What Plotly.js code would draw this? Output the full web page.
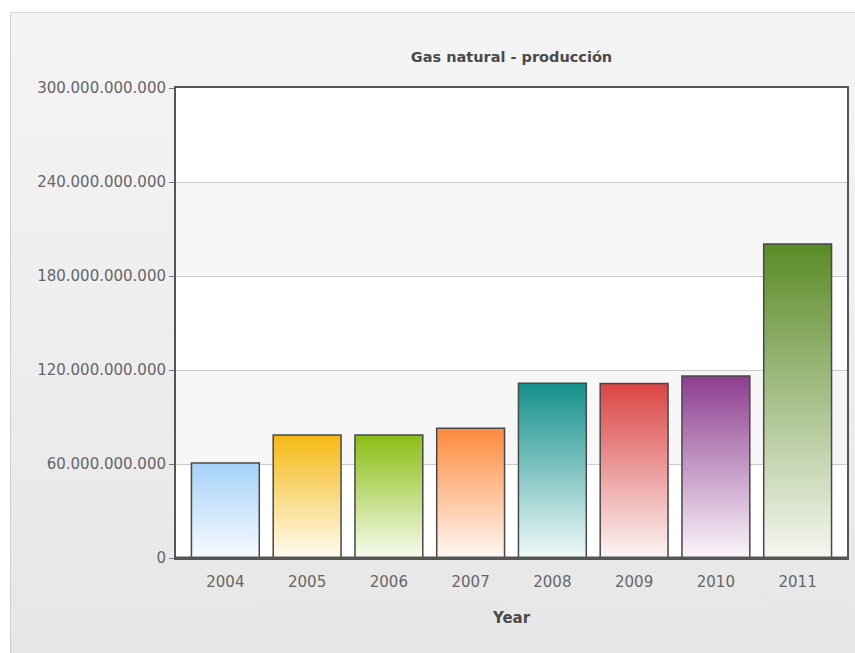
<!DOCTYPE html>
<html>
<head>
<meta charset="utf-8">
<script src="https://cdn.plot.ly/plotly-3.0.1.min.js"></script>
<style>
  html, body { margin: 0; padding: 0; background: #ffffff; }
  #wrap { position: relative; width: 855px; height: 653px; overflow: hidden; }
  #panel { position: absolute; left: 10px; top: 12px; width: 900px; height: 700px;
           border-left: 1px solid #cfcfcf; border-top: 1px solid #d6d6d6;
           background: linear-gradient(to bottom, #f4f4f4 0%, #ededed 50%, #e5e5e5 100%); }
  #chart { position: absolute; left: 0; top: 0; width: 855px; height: 653px; }
</style>
</head>
<body>
<div id="wrap">
  <div id="panel"></div>
  <div id="chart"></div>
</div>
<script>
// ---- data ----
const years = ['2004', '2005', '2006', '2007', '2008', '2009', '2010', '2011'];
const production = [60.6e9, 78.5e9, 78.5e9, 82.8e9, 111.5e9, 111.4e9, 116.2e9, 200.4e9];
const yTickValues = [0, 60e9, 120e9, 180e9, 240e9, 300e9];

// ---- styles ----
const topColors = ['#a6d2f8', '#f5b914', '#8abe14', '#ff8a3d', '#13908b', '#db4444', '#8d3e8f', '#5a8b26'];
const bottomColors = ['#f7fbff', '#fffcf2', '#f8fbef', '#fff8f3', '#f0fafa', '#fdf5f5', '#fbf5fb', '#f6f7f1'];

function fmtDots(v) {
  return String(Math.round(v)).replace(/\B(?=(\d{3})+(?!\d))/g, '.');
}
const yTickText = yTickValues.map(fmtDots);

// alternating background bands between gridlines
const shapes = [];
for (let i = 0; i < yTickValues.length - 1; i++) {
  if (i % 2 === 1) {
    shapes.push({
      type: 'rect', xref: 'paper', yref: 'y', layer: 'below',
      x0: 0, x1: 1, y0: yTickValues[i], y1: yTickValues[i + 1],
      fillcolor: '#f6f6f6', line: { width: 0 }
    });
  }
}
// thicker base line at zero
shapes.push({
  type: 'line', xref: 'paper', yref: 'y', layer: 'above',
  x0: 0, x1: 1, y0: yTickValues[0], y1: yTickValues[0],
  line: { color: '#555555', width: 3 }
});

const trace = {
  type: 'bar',
  x: years,
  y: production,
  marker: { color: topColors, line: { color: '#484848', width: 1.5 } },
  hoverinfo: 'x+y'
};

const tickFont = { family: 'DejaVu Sans, sans-serif', size: 15, color: '#666666' };

const layout = {
  width: 855, height: 653,
  margin: { l: 176, r: 8, t: 88, b: 95 },
  paper_bgcolor: 'rgba(0,0,0,0)',
  plot_bgcolor: '#ffffff',
  bargap: 0.17,
  showlegend: false,
  shapes: shapes,
  title: {
    text: 'Gas natural - producción',
    font: { family: 'DejaVu Sans, sans-serif', size: 14.5, color: '#4a4a4a', weight: 'bold' },
    x: 0.5, xref: 'paper', y: 1 - 57 / 653, yref: 'container', yanchor: 'middle'
  },
  xaxis: {
    type: 'category',
    range: [-0.604, 7.604],
    showgrid: false,
    zeroline: false,
    showline: true, linecolor: '#555555', linewidth: 2, mirror: true,
    ticks: '',
    ticklabelstandoff: 9,
    tickfont: tickFont,
    title: { text: 'Year', font: { family: 'DejaVu Sans, sans-serif', size: 15, color: '#4a4a4a', weight: 'bold' }, standoff: 22 }
  },
  yaxis: {
    range: [0, 300e9],
    tickvals: yTickValues,
    ticktext: yTickText,
    showgrid: true, gridcolor: '#cccccc', gridwidth: 1,
    zeroline: false,
    showline: true, linecolor: '#555555', linewidth: 2, mirror: true,
    ticks: 'outside', ticklen: 5, tickcolor: '#777777',
    tickfont: tickFont
  }
};

Plotly.newPlot('chart', [trace], layout, { displayModeBar: false, staticPlot: true }).then(function (gd) {
  const svg = gd.querySelector('svg.main-svg');
  let defs = svg.querySelector('defs');
  if (!defs) { defs = document.createElementNS('http://www.w3.org/2000/svg', 'defs'); svg.insertBefore(defs, svg.firstChild); }
  const ns = 'http://www.w3.org/2000/svg';
  topColors.forEach(function (c, i) {
    const g = document.createElementNS(ns, 'linearGradient');
    g.setAttribute('id', 'barGrad' + i);
    g.setAttribute('x1', '0'); g.setAttribute('y1', '0');
    g.setAttribute('x2', '0'); g.setAttribute('y2', '1');
    const s1 = document.createElementNS(ns, 'stop');
    s1.setAttribute('offset', '0'); s1.setAttribute('stop-color', c);
    const s2 = document.createElementNS(ns, 'stop');
    s2.setAttribute('offset', '1'); s2.setAttribute('stop-color', bottomColors[i]);
    g.appendChild(s1); g.appendChild(s2);
    defs.appendChild(g);
  });
  gd.querySelectorAll('.barlayer .point path').forEach(function (p, i) {
    p.style.fill = 'url(#barGrad' + i + ')';
  });
});
</script>
</body>
</html>
